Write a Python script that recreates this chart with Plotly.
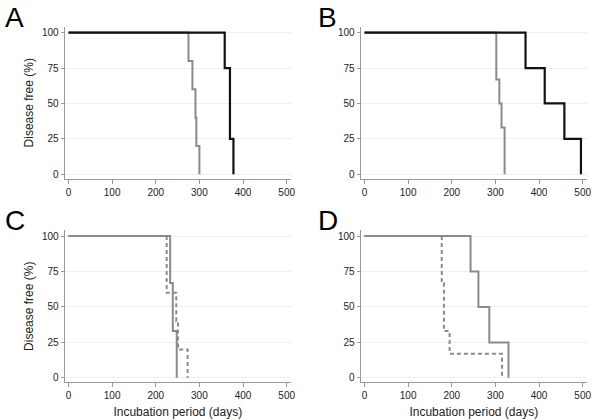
import plotly.graph_objects as go

# Panel A
a_grey_x = [0, 275, 284, 291, 293, 300]
a_grey_y = [100, 80, 60, 40, 20, 0]
a_black_x = [0, 358, 370, 378]
a_black_y = [100, 75, 25, 0]
# Panel B
b_grey_x = [0, 302, 309, 314, 321]
b_grey_y = [100, 67, 50, 33, 0]
b_black_x = [0, 369, 413, 458, 496]
b_black_y = [100, 75, 50, 25, 0]
# Panel C
c_solid_x = [0, 233, 239, 248]
c_solid_y = [100, 67, 33, 0]
c_dash_x = [0, 225, 247, 251, 273]
c_dash_y = [100, 60, 40, 20, 0]
# Panel D
d_solid_x = [0, 243, 261, 286, 330]
d_solid_y = [100, 75, 50, 25, 0]
d_dash_x = [0, 177, 182, 195, 315]
d_dash_y = [100, 67, 33, 17, 0]

x_ticks = [0, 100, 200, 300, 400, 500]
y_ticks = [0, 25, 50, 75, 100]
panel_labels = ["A", "B", "C", "D"]
y_title = "Disease free (%)"
x_title = "Incubation period (days)"

BLACK = "#111111"
GREY = "#8a8a8a"

fig = go.Figure()

def add(x, y, color, width, dash, ax):
    fig.add_trace(go.Scatter(x=x, y=y, mode="lines", line_shape="hv",
                             line=dict(color=color, width=width, dash=dash),
                             xaxis="x" + ax, yaxis="y" + ax, showlegend=False,
                             hoverinfo="skip"))

add(a_grey_x, a_grey_y, GREY, 2, "solid", "")
add(a_black_x, a_black_y, BLACK, 2.2, "solid", "")
add(b_grey_x, b_grey_y, GREY, 2, "solid", "2")
add(b_black_x, b_black_y, BLACK, 2.2, "solid", "2")
add(c_solid_x, c_solid_y, GREY, 2, "solid", "3")
add(c_dash_x, c_dash_y, GREY, 2, "4px,3px", "3")
add(d_solid_x, d_solid_y, GREY, 2, "solid", "4")
add(d_dash_x, d_dash_y, GREY, 2, "4px,3px", "4")

W, H = 600, 420
xdoms = [(65 / W, 293 / W), (363 / W, 591 / W), (65 / W, 293 / W), (363 / W, 591 / W)]
ydoms = [(1 - 179 / H, 1 - 27 / H), (1 - 179 / H, 1 - 27 / H),
         (1 - 383 / H, 1 - 231 / H), (1 - 383 / H, 1 - 231 / H)]

font = "Liberation Sans, Arial, sans-serif"
layout = dict(width=W, height=H, margin=dict(l=0, r=0, t=0, b=0),
              paper_bgcolor="white", plot_bgcolor="white",
              font=dict(family=font, size=10, color="#222"))

for i in range(4):
    suf = "" if i == 0 else str(i + 1)
    xa = dict(domain=list(xdoms[i]), range=[-9, 510], tickvals=x_ticks,
              showgrid=False, zeroline=False, showline=True, linecolor="#999",
              linewidth=1, ticks="outside", ticklen=4, tickcolor="#999",
              tickfont=dict(size=10, color="#222"),
              anchor="y" + suf)
    ya = dict(domain=list(ydoms[i]), range=[-3, 104], tickvals=y_ticks,
              showgrid=True, gridcolor="#efefef", gridwidth=1, zeroline=False,
              showline=True, linecolor="#999", linewidth=1, ticks="outside",
              ticklen=3, tickcolor="#999", tickfont=dict(size=10, color="#222"),
              anchor="x" + suf)
    if i in (0, 2):
        ya["title"] = dict(text=y_title, font=dict(size=12, color="#222"), standoff=5)
    if i in (2, 3):
        xa["title"] = dict(text=x_title, font=dict(size=12, color="#222"), standoff=7)
    layout["xaxis" + suf] = xa
    layout["yaxis" + suf] = ya

fig.update_layout(**layout)

label_pos = [(3, 0), (318, 0), (3, 203), (318, 203)]
for lab, (px, py) in zip(panel_labels, label_pos):
    fig.add_annotation(text=lab, xref="paper", yref="paper",
                       x=px / W, y=1 - py / H, xanchor="left", yanchor="top",
                       showarrow=False, font=dict(size=28, color="#000", family=font))

fig.write_html("out.html", config={"displayModeBar": False},
               post_script="document.body.style.margin='0';document.body.style.overflow='hidden';")
